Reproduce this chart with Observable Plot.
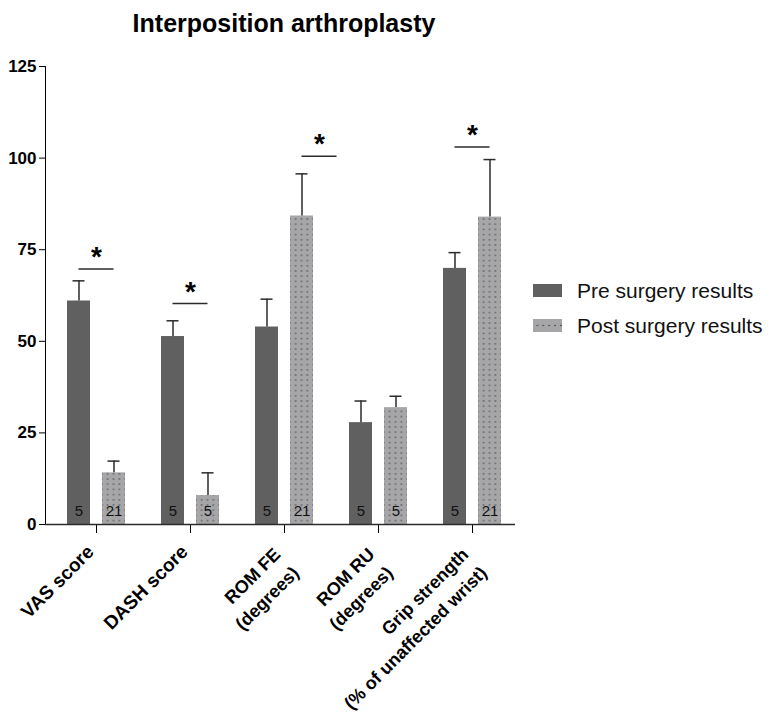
<!DOCTYPE html>
<html>
<head>
<meta charset="utf-8">
<script src="https://cdn.jsdelivr.net/npm/d3@7"></script>
<script src="https://cdn.jsdelivr.net/npm/@observablehq/plot@0.6"></script>
<style>
  body { margin: 0; background: #fff; font-family: "Liberation Sans", Arial, sans-serif; }
  #wrap { position: relative; width: 771px; height: 721px; overflow: hidden; }
  #title { position: absolute; left: 0; top: 9px; width: 568px; text-align: center;
           font-weight: bold; font-size: 25px; color: #000; }
  #chart { position: absolute; left: 0; top: 50px; }
  #legend { position: absolute; left: 533px; top: 273px; }
  #legend .item { display: flex; align-items: center; height: 35px; }
  #legend .item svg { margin-right: 15px; display: block; }
  #legend .item span { font-size: 21px; color: #111; white-space: nowrap; }
  #chart svg [aria-label^="y-axis"] text { font-weight: bold; font-size: 17px; }
</style>
</head>
<body>
<div id="wrap">
  <div id="title">Interposition arthroplasty</div>
  <div id="chart"></div>
  <div id="legend"></div>
</div>
<script>
// Outcome measures (bar groups)
const categories = [
  "VAS score",
  "DASH score",
  "ROM FE\n(degrees)",
  "ROM RU\n(degrees)",
  "Grip strength\n(% of unaffected wrist)"
];
const seriesNames = ["Pre surgery results", "Post surgery results"];
const seriesColors = ["#606060", "#a6a6a8"];

// Means and upper error (SD) per group
const preMean  = [61.0, 51.3, 53.9, 27.8, 69.9];
const preErr   = [5.5, 4.3, 7.6, 5.9, 4.3];
const postMean = [14.1, 7.9, 84.2, 31.9, 83.9];
const postErr  = [3.2, 6.2, 11.5, 3.1, 15.7];

// Number of patients per bar
const preN  = [5, 5, 5, 5, 5];
const postN = [21, 5, 21, 5, 21];

// Significance brackets; the ROM FE bracket sits one bar to the right
const sigMark   = ["*", "*", "*", "", "*"];
const sigLevel  = [69.7, 60.3, 100.5, null, 103.0];
const sigShift  = [0, 0, 1, 0, 0];

const yTicks = [0, 25, 50, 75, 100, 125];

const pre = categories.map((c, i) => ({category: c, mean: preMean[i], top: preMean[i] + preErr[i], n: preN[i]}));
const post = categories.map((c, i) => ({category: c, mean: postMean[i], top: postMean[i] + postErr[i], n: postN[i]}));
const sig = categories
  .map((c, i) => ({category: c, mark: sigMark[i], level: sigLevel[i], shift: sigShift[i]}))
  .filter(d => d.mark && d.level != null);

// Layout inside each 94px group band
const outer = 18, barW = 23, inner = 12;
const far = outer + barW + inner;          // inset on the far side of each bar
const half = (barW + inner) / 2;           // offset of bar center from band center
const step = barW + inner;                 // distance between bar centers
const capInset = 5.5;
const ink = "#2b2b2b";

// bracket marks, one set per horizontal shift
const bracketMarks = [0, 1].flatMap(s => {
  const rows = sig.filter(d => d.shift === s);
  return [
    Plot.ruleY(rows, {x1: "category", x2: "category", y: "level", insetLeft: 47 - half + s * step, insetRight: 47 - half - s * step, stroke: ink, strokeWidth: 1.5}),
    Plot.text(rows, {x: "category", y: "level", text: "mark", dx: s * step, fontSize: 28, fontWeight: "bold", lineAnchor: "bottom", dy: -3, fill: "#000"})
  ];
});

// rotated category labels; two-line labels sit a little further left
const labelStyle = {frameAnchor: "bottom", rotate: -45, textAnchor: "end", lineAnchor: "top",
  fontWeight: "bold", fill: "#000"};
const oneLine = categories.filter(c => !c.includes("\n"));
const twoLine = categories.filter(c => c.includes("\n"));

const plot = Plot.plot({
  width: 771,
  height: 671,
  marginTop: 16,
  marginBottom: 197,
  marginLeft: 45,
  marginRight: 256,
  style: {fontFamily: "Liberation Sans, Arial, sans-serif", fontSize: "17px", color: "#000", background: "transparent", overflow: "visible"},
  x: {domain: categories, range: [49, 519], padding: 0, tickSize: 9, tickFormat: () => "", label: null},
  y: {domain: [0, 125], ticks: yTicks, line: true, tickSize: 6, tickPadding: 3, label: null},
  marks: [
    Plot.barY(pre, {x: "category", y: "mean", fill: seriesColors[0], insetLeft: outer, insetRight: far}),
    Plot.barY(post, {x: "category", y: "mean", fill: "url(#dots)", insetLeft: far, insetRight: outer}),

    // error bars (upper only)
    Plot.ruleX(pre, {x: "category", y1: "mean", y2: "top", dx: -half, stroke: ink, strokeWidth: 1.5}),
    Plot.ruleX(post, {x: "category", y1: "mean", y2: "top", dx: half, stroke: ink, strokeWidth: 1.5}),
    Plot.tickY(pre, {x: "category", y: "top", insetLeft: outer + capInset, insetRight: far + capInset, stroke: ink, strokeWidth: 1.5}),
    Plot.tickY(post, {x: "category", y: "top", insetLeft: far + capInset, insetRight: outer + capInset, stroke: ink, strokeWidth: 1.5}),

    // patient counts
    Plot.text(pre, {x: "category", y: 0, text: d => String(d.n), dx: -half, dy: -9, lineAnchor: "bottom", fontSize: 15, fill: "#111"}),
    Plot.text(post, {x: "category", y: 0, text: d => String(d.n), dx: half, dy: -9, lineAnchor: "bottom", fontSize: 15, fill: "#111"}),

    ...bracketMarks,

    Plot.ruleY([0], {stroke: ink, strokeWidth: 1.5}),

    Plot.text(oneLine, {x: d => d, text: d => d, dx: -11, dy: 19, fontSize: 19, ...labelStyle}),
    Plot.text(twoLine, {x: d => d, text: d => d, dx: -16, dy: 18, fontSize: 18, lineHeight: 1.45, ...labelStyle})
  ]
});

// dotted fill used by the post-surgery bars
const defs = d3.select(plot).insert("defs", ":first-child");
const tile = 94 / 16;
const pat = defs.append("pattern")
  .attr("id", "dots")
  .attr("patternUnits", "userSpaceOnUse")
  .attr("x", 49 + far + barW / 2 - tile / 2)
  .attr("y", 0)
  .attr("width", tile)
  .attr("height", 5.2);
pat.append("rect").attr("width", tile).attr("height", 5.2).attr("fill", seriesColors[1]);
pat.append("circle").attr("cx", tile / 2).attr("cy", 2.6).attr("r", 0.7).attr("fill", "#2a2a2a");

document.getElementById("chart").appendChild(plot);

// legend
const legend = d3.select("#legend");
seriesNames.forEach((name, i) => {
  const item = legend.append("div").attr("class", "item");
  const sw = item.append("svg").attr("width", 29).attr("height", 13);
  if (i === 0) {
    sw.append("rect").attr("width", 29).attr("height", 13).attr("fill", seriesColors[0]);
  } else {
    const p = sw.append("defs").append("pattern").attr("id", "legdots")
      .attr("patternUnits", "userSpaceOnUse").attr("x", 1.5).attr("y", 0)
      .attr("width", tile).attr("height", 13);
    p.append("rect").attr("width", tile).attr("height", 13).attr("fill", seriesColors[1]);
    p.append("circle").attr("cx", tile / 2).attr("cy", 6.5).attr("r", 0.7).attr("fill", "#2a2a2a");
    sw.append("rect").attr("width", 29).attr("height", 13).attr("fill", "url(#legdots)");
  }
  item.append("span").text(name);
});
</script>
</body>
</html>
